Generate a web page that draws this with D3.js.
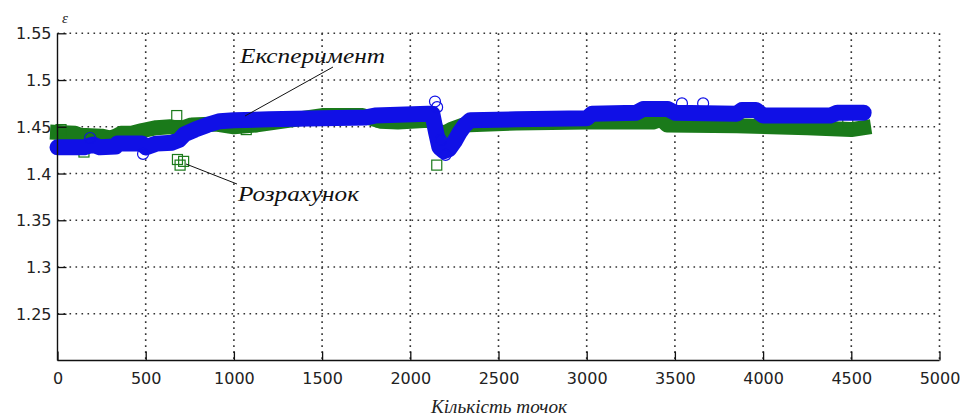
<!DOCTYPE html>
<html><head><meta charset="utf-8">
<script src="https://cdn.jsdelivr.net/npm/d3@7"></script>
<style>
html,body{margin:0;padding:0;background:#fff;}
svg{display:block;}
</style></head>
<body>
<svg id="chart" width="960" height="419"></svg>
<script>
// ---- data ----
const xTicks = [0,500,1000,1500,2000,2500,3000,3500,4000,4500,5000];
const yTicks = [1.25,1.3,1.35,1.4,1.45,1.5,1.55];
const xLabel = "Кількість точок";
const yLabel = "ε";
const seriesNames = ["Експеримент","Розрахунок"];

// Experiment (blue circles band)
const expX = [0,150,200,240,330,340,480,500,560,650,690,720,780,850,920,1000,1200,1500,1750,1800,2100,2125,2145,2165,2190,2220,2250,2280,2310,2340,2600,3000,3030,3280,3320,3460,3500,3850,3880,3960,4000,4380,4420,4570];
const expY = [1.428,1.428,1.431,1.428,1.429,1.432,1.432,1.428,1.432,1.433,1.436,1.442,1.447,1.452,1.456,1.457,1.458,1.459,1.460,1.462,1.464,1.464,1.445,1.428,1.424,1.426,1.434,1.444,1.452,1.457,1.458,1.459,1.464,1.465,1.469,1.469,1.465,1.464,1.468,1.468,1.462,1.462,1.465,1.465];

// Calculation (green squares band)
const calX = [0,100,130,250,300,330,360,420,480,560,640,700,760,900,1000,1130,1500,1730,1830,1930,2100,2130,2150,2180,2230,2300,2600,3000,3190,3375,3420,3455,3850,4250,4500,4570];
const calY = [1.444,1.443,1.441,1.440,1.438,1.440,1.443,1.443,1.446,1.449,1.450,1.448,1.452,1.453,1.450,1.452,1.462,1.462,1.456,1.455,1.457,1.457,1.445,1.442,1.447,1.452,1.454,1.455,1.455,1.455,1.458,1.452,1.451,1.449,1.447,1.449];

// isolated outlier markers
const expOutX = [185,485,2140,2152,2175,2200,3540,3660];
const expOutY = [1.438,1.421,1.477,1.471,1.436,1.420,1.475,1.475];
const calOutX = [20,150,676,680,695,715,1070,2150,2160,4480];
const calOutY = [1.447,1.423,1.462,1.415,1.409,1.413,1.447,1.409,1.446,1.454];

// ---- layout ----
const svg = d3.select("#chart");
const x = d3.scaleLinear().domain([0,5000]).range([57.5,939.5]);
const y = d3.scaleLinear().domain([1.2,1.55]).range([360.5,33.3]);
const blue = "#1010e6", green = "#1a7a1a";

// grid
const grid = svg.append("g").attr("stroke","#333").attr("stroke-width",1.6).attr("stroke-dasharray","1.6,4.4");
grid.selectAll("line.v").data(xTicks.slice(1)).join("line")
  .attr("x1",d=>x(d)).attr("x2",d=>x(d)).attr("y1",y(1.55)).attr("y2",y(1.2));
grid.selectAll("line.h").data(yTicks).join("line")
  .attr("x1",x(0)).attr("x2",x(5000)).attr("y1",d=>y(d)).attr("y2",d=>y(d));

// series bands
const calData = calX.map((d,i)=>[d,calY[i]]);
const expData = expX.map((d,i)=>[d,expY[i]]);
const line = d3.line().x(d=>x(d[0])).y(d=>y(d[1]));
svg.append("path").datum(calData).attr("d",line).attr("fill","none")
  .attr("stroke",green).attr("stroke-width",15).attr("stroke-linejoin","round").attr("stroke-linecap","square");
svg.selectAll("rect.cal").data(calOutX.map((d,i)=>[d,calOutY[i]])).join("rect")
  .attr("x",d=>x(d[0])-5).attr("y",d=>y(d[1])-5).attr("width",10).attr("height",10)
  .attr("fill","none").attr("stroke",green).attr("stroke-width",1.2);
svg.append("path").datum(expData).attr("d",line).attr("fill","none")
  .attr("stroke",blue).attr("stroke-width",16).attr("stroke-linejoin","round").attr("stroke-linecap","round");
svg.selectAll("circle.exp").data(expOutX.map((d,i)=>[d,expOutY[i]])).join("circle")
  .attr("cx",d=>x(d[0])).attr("cy",d=>y(d[1])).attr("r",5.5)
  .attr("fill","none").attr("stroke",blue).attr("stroke-width",1.2);

// axes
const fontTick = "'DejaVu Sans', sans-serif";
const xAxis = d3.axisBottom(x).tickValues(xTicks).tickSize(-9).tickPadding(12).tickFormat(d3.format("d"));
const yAxis = d3.axisLeft(y).tickValues(yTicks).tickSize(-9).tickPadding(6).tickFormat(d=>String(d));
const gx = svg.append("g").attr("transform",`translate(0,${y(1.2)})`).call(xAxis);
const gy = svg.append("g").attr("transform",`translate(${x(0)},0)`).call(yAxis);
[gx,gy].forEach(g=>{
  g.select(".domain").attr("stroke","#111").attr("stroke-width",1.4);
  g.selectAll(".tick line").attr("stroke","#111").attr("stroke-width",1.3);
  g.selectAll(".tick text").attr("fill","#222").style("font-family",fontTick).style("font-size","16px");
});
gy.select(".domain").attr("d",`M0,${y(1.55)}V${y(1.2)}`);
gx.select(".domain").attr("d",`M${x(0)},0H${x(5000)}`);
gy.selectAll(".tick text").attr("dy","0.35em");

// labels
const serif = "'Liberation Serif','DejaVu Serif',serif";
svg.append("text").attr("x",62).attr("y",23).text(yLabel)
  .style("font-family",serif).style("font-style","italic").style("font-size","15px").attr("fill","#222");
svg.append("text").attr("x",431).attr("y",413).text(xLabel)
  .attr("textLength",136).attr("lengthAdjust","spacingAndGlyphs")
  .style("font-family",serif).style("font-style","italic").style("font-size","19px").attr("fill","#222");

// annotations
svg.append("text").attr("x",240).attr("y",63).text(seriesNames[0])
  .attr("textLength",145).attr("lengthAdjust","spacingAndGlyphs")
  .style("font-family",serif).style("font-style","italic").style("font-size","22px").attr("fill","#111");
svg.append("line").attr("x1",333).attr("y1",67).attr("x2",245).attr("y2",116).attr("stroke","#111").attr("stroke-width",1);
svg.append("text").attr("x",238).attr("y",201).text(seriesNames[1])
  .attr("textLength",121).attr("lengthAdjust","spacingAndGlyphs")
  .style("font-family",serif).style("font-style","italic").style("font-size","22px").attr("fill","#111");
svg.append("line").attr("x1",186).attr("y1",164).attr("x2",237).attr("y2",184).attr("stroke","#111").attr("stroke-width",1);
</script>
</body></html>
